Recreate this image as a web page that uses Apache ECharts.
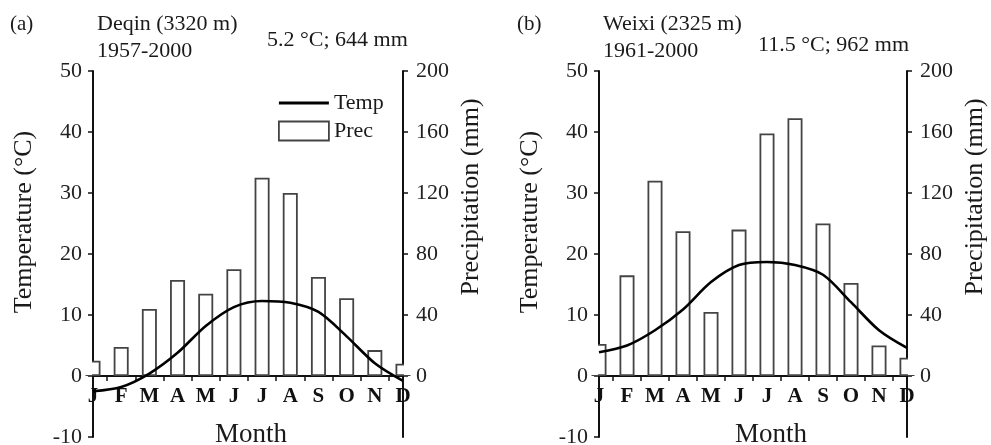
<!DOCTYPE html>
<html>
<head>
<meta charset="utf-8">
<script src="https://cdn.jsdelivr.net/npm/echarts@6/dist/echarts.min.js"></script>
<style>
  html, body { margin: 0; padding: 0; background: #fff; }
  #chart { width: 991px; height: 445px; }
</style>
</head>
<body>
<div id="chart"></div>
<script>
// ---- data ----
const months = ['J', 'F', 'M', 'A', 'M', 'J', 'J', 'A', 'S', 'O', 'N', 'D'];
const deqinTemp = [-2.5, -1.8, 0.4, 3.8, 8.2, 11.3, 12.3, 12.0, 10.5, 6.5, 2.1, -0.8];
const deqinPrec = [10, 19, 44, 63, 54, 70, 130, 120, 65, 51, 17, 8];
const weixiTemp = [3.9, 5.0, 7.5, 10.9, 15.4, 18.2, 18.7, 18.2, 16.6, 12.1, 7.5, 4.6];
const weixiPrec = [21, 66, 128, 95, 42, 96, 159, 169, 100, 61, 20, 12];
const tempTicks = [-10, 0, 10, 20, 30, 40, 50];
const precTicks = [0, 40, 80, 120, 160, 200];
const panelLetters = ['(a)', '(b)'];
const stationNames = ['Deqin (3320 m)', 'Weixi (2325 m)'];
const periods = ['1957-2000', '1961-2000'];
const summaries = ['5.2 °C; 644 mm', '11.5 °C; 962 mm'];

const FONT = 'Liberation Serif';
const INK = '#111';
const W = 991, H = 445;
const BAR_W = 15;
const monthIdx = months.map((m, i) => i);
const halfTicks = months.slice(1).map((m, i) => i + 0.5);
const tMin = tempTicks[0], tMax = tempTicks[tempTicks.length - 1];
const precMin = tMin * (precTicks[precTicks.length - 1] / tMax);

const grids = [
  { left: 93, right: 588, top: 71, bottom: 8, containLabel: false, outerBoundsMode: 'none' },
  { left: 599, right: 84, top: 71, bottom: 8, containLabel: false, outerBoundsMode: 'none' }
];

const xAxes = [], yAxes = [], series = [];
const panels = [
  { temp: deqinTemp, prec: deqinPrec },
  { temp: weixiTemp, prec: weixiPrec }
];

panels.forEach((p, i) => {
  const g = grids[i];
  const plotH = H - g.top - g.bottom;
  const zeroOffset = -plotH * (0 - tMin) / (tMax - tMin); // move x axis up to the 0 line
  xAxes.push({
    gridIndex: i, type: 'value', min: 0, max: months.length - 1,
    position: 'bottom', offset: zeroOffset,
    axisLine: { show: true, onZero: false, lineStyle: { color: INK, width: 2 } },
    axisTick: { show: true, customValues: halfTicks, length: 5, lineStyle: { color: INK, width: 1.5 } },
    axisLabel: {
      customValues: monthIdx, formatter: v => months[Math.round(v)],
      fontFamily: FONT, fontWeight: 'bold', fontSize: 21, color: INK, margin: 10
    },
    splitLine: { show: false }
  });
  yAxes.push({
    gridIndex: i, type: 'value', position: 'left', min: tMin, max: tMax, interval: 10,
    axisLine: { show: true, onZero: false, lineStyle: { color: INK, width: 2 } },
    axisTick: { show: true, length: 5, lineStyle: { color: INK, width: 1.5 } },
    axisLabel: { fontFamily: FONT, fontSize: 22, color: '#222', margin: 11 },
    splitLine: { show: false }
  });
  yAxes.push({
    gridIndex: i, type: 'value', position: 'right', min: precMin, max: precTicks[precTicks.length - 1], interval: 40,
    axisLine: { show: true, onZero: false, lineStyle: { color: INK, width: 2 } },
    axisTick: { show: true, customValues: precTicks, length: 5, lineStyle: { color: INK, width: 1.5 } },
    axisLabel: { customValues: precTicks, fontFamily: FONT, fontSize: 22, color: '#222', margin: 13 },
    splitLine: { show: false }
  });
  series.push({
    type: 'bar', name: 'Prec', xAxisIndex: i, yAxisIndex: 2 * i + 1,
    data: p.prec.map((v, k) => [k, v]),
    barWidth: BAR_W, clip: true,
    itemStyle: { color: '#fff', borderColor: '#444', borderWidth: 1.8 },
    z: 2
  });
  series.push({
    type: 'line', name: 'Temp', xAxisIndex: i, yAxisIndex: 2 * i,
    data: p.temp.map((v, k) => [k, v]),
    smooth: 0.3, symbol: 'none',
    lineStyle: { color: '#000', width: 2.6 },
    itemStyle: { color: '#000' },
    z: 3
  });
});

function txt(x, y, text, size) {
  return {
    type: 'text', x: x, y: y, z: 50,
    style: { text: text, fontFamily: FONT, fontSize: size, fill: '#1a1a1a', align: 'left', verticalAlign: 'middle' }
  };
}

const graphics = [];
// white masks: hide the half of the first/last bar that hangs outside the plot
// (ECharts does not clip bar overhang on a value base axis)
grids.forEach(g => {
  const zeroY = g.top + (H - g.top - g.bottom) * (tMax / (tMax - tMin));
  const plotRight = W - g.right;
  const mh = 55;
  graphics.push({ type: 'rect', z: 40, silent: true,
    shape: { x: g.left - BAR_W / 2 - 3, y: zeroY - mh, width: BAR_W / 2 + 2, height: mh - 1 },
    style: { fill: '#fff' } });
  graphics.push({ type: 'rect', z: 40, silent: true,
    shape: { x: plotRight + 1, y: zeroY - mh, width: BAR_W / 2 + 2, height: mh - 1 },
    style: { fill: '#fff' } });
});

const titleX = [[10, 97, 267], [517, 603, 758]];
const summaryY = [40, 45];
[0, 1].forEach(i => {
  graphics.push(txt(titleX[i][0], 24, panelLetters[i], 21));
  graphics.push(txt(titleX[i][1], 24, stationNames[i], 22));
  graphics.push(txt(titleX[i][1], 51, periods[i], 22));
  graphics.push(txt(titleX[i][2], summaryY[i], summaries[i], 22));
});
// axis names
const tempNameX = [24, 530];
const precNameX = [471, 975];
const monthX = [251, 771];
[0, 1].forEach(i => {
  graphics.push({ type: 'text', x: tempNameX[i], y: 222, rotation: Math.PI / 2, z: 50,
    style: { text: 'Temperature (°C)', fontFamily: FONT, fontSize: 26, fill: '#1a1a1a', align: 'center', verticalAlign: 'middle' } });
  graphics.push({ type: 'text', x: precNameX[i], y: 197, rotation: Math.PI / 2, z: 50,
    style: { text: 'Precipitation (mm)', fontFamily: FONT, fontSize: 26, fill: '#1a1a1a', align: 'center', verticalAlign: 'middle' } });
  graphics.push({ type: 'text', x: monthX[i], y: 435, z: 50,
    style: { text: 'Month', fontFamily: FONT, fontSize: 27, fill: '#1a1a1a', align: 'center', verticalAlign: 'middle' } });
});

const chart = echarts.init(document.getElementById('chart'), null, { renderer: 'canvas' });
chart.setOption({
  animation: false,
  backgroundColor: '#fff',
  grid: grids,
  xAxis: xAxes,
  yAxis: yAxes,
  series: series,
  legend: {
    data: [
      { name: 'Temp', icon: 'path://M0,0h0.01v0.01h-0.01zM0,8h50v3h-50zM0,19h0.01v0.01h-0.01z',
        itemStyle: { color: '#000', borderWidth: 0 } },
      { name: 'Prec', icon: 'rect',
        itemStyle: { color: '#fff', borderColor: '#444', borderWidth: 1.8 } }
    ],
    orient: 'vertical', left: 273, top: 87,
    itemWidth: 50, itemHeight: 19, itemGap: 6,
    textStyle: { fontFamily: FONT, fontSize: 22, color: '#1a1a1a' }
  },
  graphic: graphics
});
</script>
</body>
</html>
